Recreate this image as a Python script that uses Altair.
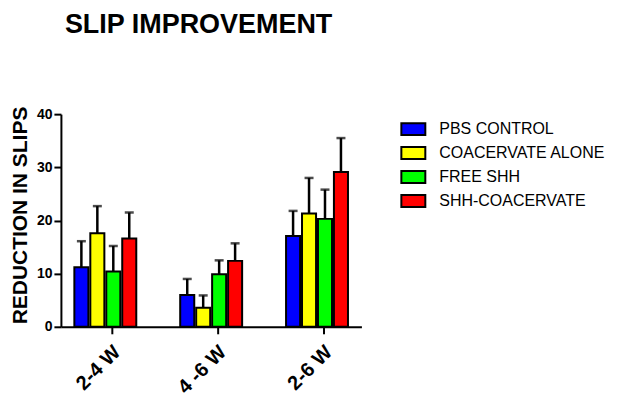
import altair as alt
import pandas as pd

groups = ["2-4 W", "4 -6 W", "2-6 W"]
series = ["PBS CONTROL", "COACERVATE ALONE", "FREE SHH", "SHH-COACERVATE"]
colors = ["#0000FF", "#FFFF00", "#00FF00", "#FF0000"]

means = {
    "PBS CONTROL":      [11.2, 6.0, 17.1],
    "COACERVATE ALONE": [17.6, 3.6, 21.3],
    "FREE SHH":         [10.4, 9.9, 20.3],
    "SHH-COACERVATE":   [16.6, 12.4, 29.1],
}
upper = {
    "PBS CONTROL":      [16.1, 9.0, 21.8],
    "COACERVATE ALONE": [22.7, 5.9, 28.0],
    "FREE SHH":         [15.2, 12.5, 25.8],
    "SHH-COACERVATE":   [21.5, 15.7, 35.5],
}

rows = []
for s in series:
    for i, g in enumerate(groups):
        rows.append({"group": g, "series": s, "value": means[s][i], "upper": upper[s][i]})
df = pd.DataFrame(rows)

FONT = "Liberation Sans"

x = alt.X(
    "group:N",
    sort=groups,
    scale=alt.Scale(paddingInner=0.415, paddingOuter=0.127),
    axis=alt.Axis(
        title=None,
        labelAngle=315,
        labelAlign="right",
        labelBaseline="middle",
        labelFont=FONT,
        labelFontWeight="bold",
        labelFontSize=20,
        labelColor="black",
        labelPadding=15,
        labelOffset=12,
        bandPosition=0.62,
        tickSize=7,
        tickWidth=2,
        tickColor="black",
        domainColor="black",
        domainWidth=2,
    ),
)
xoff = alt.XOffset("series:N", sort=series, scale=alt.Scale(paddingInner=0.12))
y_axis = alt.Axis(
    title="REDUCTION IN SLIPS",
    values=[0, 10, 20, 30, 40],
    grid=False,
    labelFont=FONT,
    labelFontWeight="bold",
    labelFontSize=14,
    labelColor="black",
    labelPadding=2,
    tickSize=7,
    tickWidth=2,
    tickColor="black",
    domainColor="black",
    domainWidth=2,
    titleFont=FONT,
    titleFontWeight="bold",
    titleFontSize=21,
    titleColor="black",
    titleAngle=270,
    titleBaseline="alphabetic",
    titleAlign="center",
    titleX=-34,
    titleY=101,
)
yscale = alt.Scale(domain=[0, 40], nice=False)

bars = alt.Chart(df).mark_bar(stroke="black", strokeWidth=2).encode(
    x=x,
    xOffset=xoff,
    y=alt.Y("value:Q", scale=yscale, axis=y_axis),
    fill=alt.Fill(
        "series:N",
        sort=series,
        scale=alt.Scale(domain=series, range=colors),
        legend=alt.Legend(
            title=None,
            orient="none",
            legendX=340,
            legendY=2,
            padding=0,
            symbolType="M-1,-0.5H1V0.5H-1Z",
            symbolSize=576,
            symbolStrokeColor="black",
            symbolStrokeWidth=2,
            symbolOpacity=1,
            labelFont=FONT,
            labelFontSize=16,
            labelColor="black",
            labelOffset=13,
            labelLimit=400,
            rowPadding=1,
        ),
    ),
)

err = alt.Chart(df).mark_rule(color="black", strokeWidth=2.5).encode(
    x=alt.X("group:N", sort=groups),
    xOffset=xoff,
    y=alt.Y("value:Q", scale=yscale),
    y2="upper:Q",
)
caps = alt.Chart(df).mark_tick(color="black", thickness=2.5, size=9).encode(
    x=alt.X("group:N", sort=groups),
    xOffset=xoff,
    y=alt.Y("upper:Q", scale=yscale),
)

chart = (
    alt.layer(err, caps, bars)
    .properties(
        width=301,
        height=213,
        title=alt.TitleParams(
            "SLIP IMPROVEMENT",
            font=FONT,
            fontWeight="bold",
            fontSize=27,
            color="black",
            anchor="start",
            frame="group",
            dx=4,
            offset=67,
        ),
        autosize=alt.AutoSizeParams(type="none"),
        padding={"left": 53, "top": 106, "right": 255, "bottom": 70},
        background="white",
    )
    .configure_view(stroke=None)
)

chart.save("out.html", embed_options={"renderer": "svg", "actions": False})
